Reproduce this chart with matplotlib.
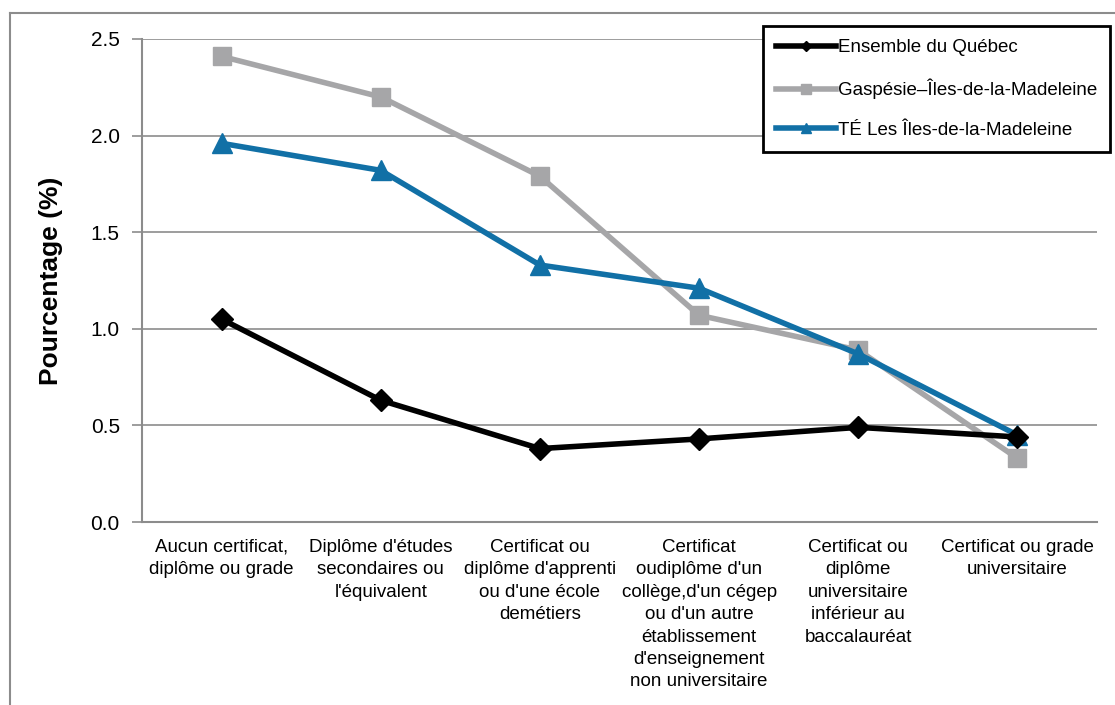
"""Line chart: share (%) by highest diploma, Québec vs. Gaspésie regions."""
import matplotlib
matplotlib.use("Agg")
import matplotlib.pyplot as plt
from matplotlib.lines import Line2D

plt.rcParams["font.family"] = ["Liberation Sans", "DejaVu Sans"]

# ---------------------------------------------------------------------------
# Data
# ---------------------------------------------------------------------------
categories = [
    "Aucun certificat,\ndiplôme ou grade",
    "Diplôme d'études\nsecondaires ou\nl'équivalent",
    "Certificat ou\ndiplôme d'apprenti\nou d'une école\ndemétiers",
    "Certificat\noudiplôme d'un\ncollège,d'un cégep\nou d'un autre\nétablissement\nd'enseignement\nnon universitaire",
    "Certificat ou\ndiplôme\nuniversitaire\ninférieur au\nbaccalauréat",
    "Certificat ou grade\nuniversitaire",
]
quebec = [1.05, 0.63, 0.38, 0.43, 0.49, 0.44]
gaspesie = [2.41, 2.20, 1.79, 1.07, 0.89, 0.33]
iles = [1.96, 1.82, 1.33, 1.21, 0.87, 0.45]

series_labels = [
    "Ensemble du Québec",
    "Gaspésie–Îles-de-la-Madeleine",
    "TÉ Les Îles-de-la-Madeleine",
]
yticks = [0.0, 0.5, 1.0, 1.5, 2.0, 2.5]

GRID = "#8c8c8c"
W, H = 1115, 705

fig = plt.figure(figsize=(W / 100, H / 100), dpi=100)
ax = fig.add_axes([142 / W, 1 - 522 / H, (1097 - 142) / W, (522 - 39) / H])

x = list(range(len(categories)))
ax.plot(x, quebec, color="black", lw=4, marker="D", ms=11,
        label=series_labels[0], zorder=5)
ax.plot(x, gaspesie, color="#a6a6a8", lw=4, marker="s", ms=13.5,
        label=series_labels[1], zorder=3)
ax.plot(x, iles, color="#1170a6", lw=4, marker="^", ms=15,
        label=series_labels[2], zorder=4)

ax.set_xlim(-0.5, len(categories) - 0.5)
ax.set_ylim(0, 2.5)
ax.set_yticks(yticks)
ax.set_yticklabels([f"{v:.1f}" for v in yticks])
ax.set_xticks(x)
ax.set_xticklabels(categories, fontsize=13.5, linespacing=1.42, va="top")
ax.tick_params(axis="x", length=0, pad=12)
ax.tick_params(axis="y", length=7, width=1.2, color=GRID, labelsize=15, pad=9)

ax.grid(axis="y", color=GRID, lw=1.2)
ax.set_axisbelow(True)
for side in ("top", "right"):
    ax.spines[side].set_visible(False)
for side in ("left", "bottom"):
    ax.spines[side].set_color(GRID)
    ax.spines[side].set_linewidth(1.5)

ax.set_ylabel("Pourcentage (%)", fontsize=19, fontweight="bold", labelpad=20)

leg = ax.legend(loc="upper left", bbox_to_anchor=(763 / W, 1 - 26 / H),
                bbox_transform=fig.transFigure, borderaxespad=0,
                fontsize=13.5, handlelength=3.2, handletextpad=0.1,
                labelspacing=1.2, borderpad=0.7, fancybox=False,
                markerscale=0.5, framealpha=1)
leg.get_frame().set_edgecolor("black")
leg.get_frame().set_linewidth(2)

# outer chart-area frame (top and left edges)
fig.add_artist(Line2D([10 / W, 1.0], [1 - 13 / H, 1 - 13 / H],
                      transform=fig.transFigure, color=GRID, lw=1.5))
fig.add_artist(Line2D([10 / W, 10 / W], [1 - 13 / H, 0.0],
                      transform=fig.transFigure, color=GRID, lw=1.5))

fig.savefig("out.png", dpi=100)
